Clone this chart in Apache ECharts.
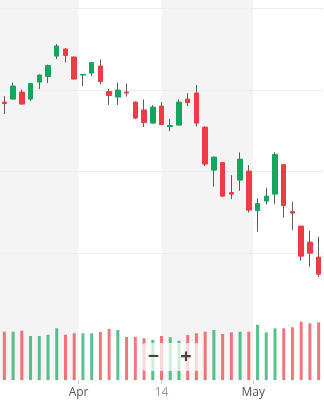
<!DOCTYPE html>
<html>
<head>
<meta charset="utf-8">
<script src="https://cdn.jsdelivr.net/npm/echarts@6/dist/echarts.min.js"></script>
<style>
html,body{margin:0;padding:0;background:#fff;}
#chart{width:324px;height:400px;}
</style>
</head>
<body>
<div id="chart"></div>
<script>
const categories = ['2025-03-19','2025-03-20','2025-03-21','2025-03-24','2025-03-25','2025-03-26','2025-03-27','2025-03-28','2025-03-31',
  '2025-04-01','2025-04-02','2025-04-03','2025-04-04','2025-04-07','2025-04-08','2025-04-09','2025-04-10','2025-04-11',
  '2025-04-14','2025-04-15','2025-04-16','2025-04-17','2025-04-22','2025-04-23','2025-04-24','2025-04-25','2025-04-28','2025-04-29','2025-04-30',
  '2025-05-02','2025-05-05','2025-05-06','2025-05-07','2025-05-08','2025-05-09','2025-05-12','2025-05-13'];
const openP  = [128.49,128.86,129.72,128.86,130.94,131.62,134.12,134.98,134.0,131.8,132.04,132.9,129.78,129.11,129.72,128.49,127.52,125.92,128.0,125.5,125.68,128.86,129.6,125.43,120.17,121.09,117.42,118.95,120.05,115.21,116.38,117.23,120.84,115.09,113.32,111.36,109.52];
const closeP = [128.31,130.45,128.25,130.76,131.8,132.96,135.35,134.19,131.31,131.88,133.33,131.0,129.29,129.96,129.6,126.54,125.99,127.88,125.74,125.62,128.49,128.43,125.92,120.91,121.76,116.99,117.23,121.52,115.28,116.07,116.99,122.07,115.83,114.91,109.64,110.01,107.44];
const lowP   = [127.03,128.8,128.19,128.62,130.09,130.82,133.76,133.33,131.25,130.45,131.68,130.7,128.13,128.13,129.17,126.41,125.43,125.86,125.68,124.94,125.62,128.0,125.5,120.66,118.15,116.87,116.62,117.64,114.97,112.62,115.97,116.01,114.36,112.83,109.07,108.34,107.11];
const highP  = [129.23,130.88,130.02,130.82,131.86,133.08,135.59,135.1,134.06,131.92,133.39,133.7,130.09,130.88,130.76,128.56,128.8,128.13,128.49,126.41,128.82,129.56,130.58,125.5,121.82,121.15,119.56,122.34,120.78,116.71,118.0,122.34,120.91,116.29,113.38,112.74,112.01];
const volume = [60.4,60.4,61.6,55,55,56.6,64.6,56.6,58.4,58.4,58.4,60,63.8,62.5,53.8,53.8,52.1,50,55,53.4,49.1,56.3,58.4,60.4,62.5,57.5,59.6,60.4,60.4,68.8,59.6,64.6,64.6,65.9,72.9,70.9,72.1];
const tickLabels = ['Apr', '14', 'May'];
const tickDates = ['2025-04-01', '2025-04-14', '2025-05-02'];
const tickIsMonth = [true, false, true];

const UP = '#13a65e', DOWN = '#ef3b45', WICK = '#5d5d5d';
const tickValues = tickDates.map((d, k) => categories.indexOf(d) - (tickIsMonth[k] ? 0.5 : 0));
const n = categories.length;
const xMin = -0.5, xMax = n - 0.5;

const wickData = categories.map((c, i) => [openP[i], closeP[i], lowP[i], highP[i]]);
const bodyData = categories.map((c, i) => [openP[i], closeP[i], Math.min(openP[i], closeP[i]), Math.max(openP[i], closeP[i])]);

const chart = echarts.init(document.getElementById('chart'), null, {renderer: 'canvas'});
const gridLR = {left: -1, right: 1};
chart.setOption({
  animation: false,
  grid: [
    Object.assign({top: 8, height: 327}, gridLR),
    Object.assign({top: 300, bottom: 20}, gridLR),
    Object.assign({top: 0, bottom: 20}, gridLR)
  ],
  xAxis: [
    {type: 'category', gridIndex: 0, data: categories, boundaryGap: true,
     axisLine: {show: false}, axisTick: {show: false}, axisLabel: {show: false}, splitLine: {show: false}},
    {type: 'category', gridIndex: 1, data: categories, boundaryGap: true,
     axisLine: {show: false}, axisTick: {show: false}, axisLabel: {show: false}, splitLine: {show: false}},
    {type: 'value', gridIndex: 2, min: xMin, max: xMax, z: -1,
     axisLine: {show: false}, axisLabel: {show: false},
     axisTick: {show: false, customValues: [xMin].concat(tickValues, [xMax])},
     splitLine: {show: false},
     splitArea: {show: true, areaStyle: {color: ['#f4f4f4', 'rgba(255,255,255,0)']}}},
    {type: 'value', gridIndex: 1, min: xMin, max: xMax, position: 'bottom',
     axisLine: {show: false},
     axisTick: {show: true, length: 4, customValues: tickValues, lineStyle: {color: '#cfcfcf'}},
     axisLabel: {show: true, customValues: tickValues, margin: 7, fontSize: 12, fontFamily: 'Open Sans',
       formatter: function (v) {
         const k = tickValues.findIndex(t => Math.abs(t - v) < 1e-6);
         if (k < 0) return '';
         return tickIsMonth[k] ? '{m|' + tickLabels[k] + '}' : '{d|' + tickLabels[k] + '}';
       },
       rich: {m: {color: '#555', fontSize: 12, fontFamily: 'Open Sans'}, d: {color: '#9a9a9a', fontSize: 12, fontFamily: 'Open Sans'}}},
     splitLine: {show: false}}
  ],
  yAxis: [
    {type: 'value', gridIndex: 0, min: 100, max: 140, interval: 10, z: 1,
     axisLine: {show: false}, axisTick: {show: false}, axisLabel: {show: false},
     splitLine: {show: true, showMinLine: false, lineStyle: {color: '#ececec', width: 1}}},
    {type: 'value', gridIndex: 1, min: 0, max: 100,
     axisLine: {show: false}, axisTick: {show: false}, axisLabel: {show: false}, splitLine: {show: false}},
    {type: 'value', gridIndex: 2, min: 0, max: 1,
     axisLine: {show: false}, axisTick: {show: false}, axisLabel: {show: false}, splitLine: {show: false}}
  ],
  series: [
    {type: 'bar', xAxisIndex: 1, yAxisIndex: 1, data: volume, barWidth: 3,
     itemStyle: {opacity: 0.7, color: function (p) { return closeP[p.dataIndex] >= openP[p.dataIndex] ? UP : DOWN; }}},
    {type: 'candlestick', xAxisIndex: 0, yAxisIndex: 0, data: wickData, barWidth: 1,
     itemStyle: {color: WICK, color0: WICK, borderColor: WICK, borderColor0: WICK, borderWidth: 1}},
    {type: 'candlestick', xAxisIndex: 0, yAxisIndex: 0, data: bodyData, barWidth: 5,
     itemStyle: {color: UP, color0: DOWN, borderColor: UP, borderColor0: DOWN, borderWidth: 1}}
  ],
  graphic: [
    {type: 'rect', left: 142, top: 343, z: 100, shape: {width: 60, height: 28, r: 4},
     style: {fill: 'rgba(255,255,255,0.72)'}},
    {type: 'text', x: 153.5, y: 357, z: 101,
     style: {text: '−', fontSize: 20, fontWeight: 'bold', fill: '#444', align: 'center', verticalAlign: 'middle', fontFamily: 'Open Sans'}},
    {type: 'text', x: 186, y: 357, z: 101,
     style: {text: '+', fontSize: 20, fontWeight: 'bold', fill: '#444', align: 'center', verticalAlign: 'middle', fontFamily: 'Open Sans'}}
  ]
});
</script>
</body>
</html>
